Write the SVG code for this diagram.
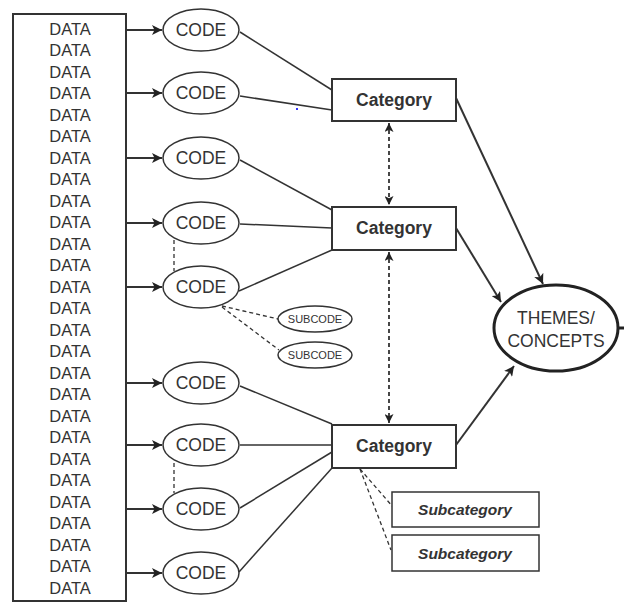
<svg xmlns="http://www.w3.org/2000/svg" width="624" height="604" viewBox="0 0 624 604">
<defs>
<marker id="ah" viewBox="0 0 10 10" refX="10" refY="5" markerWidth="10" markerHeight="10" markerUnits="userSpaceOnUse" orient="auto">
<path d="M0,0 L10,5 L0,10 L2.5,5 Z" fill="#222"/>
</marker>
<marker id="ahs" viewBox="0 0 10 10" refX="10" refY="5" markerWidth="9" markerHeight="9" markerUnits="userSpaceOnUse" orient="auto-start-reverse">
<path d="M0,0 L10,5 L0,10 L2.5,5 Z" fill="#222"/>
</marker>
</defs>
<style>
.box{fill:#fff;stroke:#333;stroke-width:2}
.code{fill:#fff;stroke:#333;stroke-width:1.5}
.t{font-family:"Liberation Sans",Arial,sans-serif;fill:#333;text-anchor:middle;dominant-baseline:central}
.data{font-size:16.5px}
.cl{font-size:17.5px}
.cat{font-size:17.5px;font-weight:bold}
.sub{font-size:11px}
.subcat{font-size:15.5px;font-weight:bold;font-style:italic}
.ln{stroke:#333;stroke-width:1.5;fill:none}
.arr{stroke:#333;stroke-width:2;fill:none;marker-end:url(#ah)}
.dash{stroke:#333;stroke-width:1.3;fill:none;stroke-dasharray:4,3}
.dar{stroke:#333;stroke-width:1.8;fill:none;stroke-dasharray:4,3;marker-start:url(#ahs);marker-end:url(#ahs)}
</style>
<g id="connectors">
<path class="arr" d="M126,30 H162"/>
<path class="arr" d="M126,93 H162"/>
<path class="arr" d="M126,158 H162"/>
<path class="arr" d="M126,223 H162"/>
<path class="arr" d="M126,287 H162"/>
<path class="arr" d="M126,383 H162"/>
<path class="arr" d="M126,445 H162"/>
<path class="arr" d="M126,509 H162"/>
<path class="arr" d="M126,573 H162"/>
<path class="ln" d="M240,32 L332,90"/>
<path class="ln" d="M240,96 L332,110"/>
<path class="ln" d="M240,160 L332,210"/>
<path class="ln" d="M240,224 L332,228"/>
<path class="ln" d="M239,291 L332,250"/>
<path class="ln" d="M240,386 L332,424"/>
<path class="ln" d="M240,445 L332,445"/>
<path class="ln" d="M240,508 L332,452"/>
<path class="ln" d="M239,572 L332,468"/>
<path class="dash" d="M174,240 V271"/>
<path class="dash" d="M174,463 V493"/>
<path class="dash" d="M222,306 L278,319"/>
<path class="dash" d="M222,307 L279,350"/>
<path class="dash" d="M360,469 L393,507"/>
<path class="dash" d="M360,469 L391,550"/>
<path class="dar" d="M389,123 V205"/>
<path class="dar" d="M389,252 V423"/>
<path class="arr" d="M456,98 L543,284"/>
<path class="arr" d="M456,228 L501,302"/>
<path class="arr" d="M456,445 L514,366"/>
<path stroke="#222" stroke-width="3" d="M618,328 H624"/>
</g>
<g id="data">
<rect class="box" x="13" y="14" width="113" height="587"/>
<g class="t data">
<text x="70" y="29">DATA</text><text x="70" y="50">DATA</text><text x="70" y="72">DATA</text><text x="70" y="93">DATA</text><text x="70" y="115">DATA</text><text x="70" y="136">DATA</text><text x="70" y="158">DATA</text><text x="70" y="179">DATA</text><text x="70" y="201">DATA</text><text x="70" y="222">DATA</text><text x="70" y="244">DATA</text><text x="70" y="265">DATA</text><text x="70" y="287">DATA</text><text x="70" y="308">DATA</text><text x="70" y="330">DATA</text><text x="70" y="351">DATA</text><text x="70" y="373">DATA</text><text x="70" y="394">DATA</text><text x="70" y="416">DATA</text><text x="70" y="437">DATA</text><text x="70" y="459">DATA</text><text x="70" y="480">DATA</text><text x="70" y="502">DATA</text><text x="70" y="523">DATA</text><text x="70" y="545">DATA</text><text x="70" y="566">DATA</text><text x="70" y="588">DATA</text>
</g>
</g>
<g id="code1"><ellipse class="code" cx="201" cy="30" rx="38" ry="21"/><text class="t cl" x="201" y="30">CODE</text></g>
<g id="code2"><ellipse class="code" cx="201" cy="93" rx="38" ry="21"/><text class="t cl" x="201" y="93">CODE</text></g>
<g id="code3"><ellipse class="code" cx="201" cy="158" rx="38" ry="21"/><text class="t cl" x="201" y="158">CODE</text></g>
<g id="code4"><ellipse class="code" cx="201" cy="223" rx="38" ry="21"/><text class="t cl" x="201" y="223">CODE</text></g>
<g id="code5"><ellipse class="code" cx="201" cy="287" rx="38" ry="21"/><text class="t cl" x="201" y="287">CODE</text></g>
<g id="code6"><ellipse class="code" cx="201" cy="383" rx="38" ry="21"/><text class="t cl" x="201" y="383">CODE</text></g>
<g id="code7"><ellipse class="code" cx="201" cy="445" rx="38" ry="21"/><text class="t cl" x="201" y="445">CODE</text></g>
<g id="code8"><ellipse class="code" cx="201" cy="509" rx="38" ry="21"/><text class="t cl" x="201" y="509">CODE</text></g>
<g id="code9"><ellipse class="code" cx="201" cy="573" rx="38" ry="21"/><text class="t cl" x="201" y="573">CODE</text></g>
<g id="subcode1"><ellipse class="code" cx="315" cy="319" rx="37" ry="13"/><text class="t sub" x="315" y="319">SUBCODE</text></g>
<g id="subcode2"><ellipse class="code" cx="315" cy="355" rx="37" ry="13"/><text class="t sub" x="315" y="355">SUBCODE</text></g>
<g id="cat1"><rect class="box" x="332" y="79" width="124" height="42"/><text class="t cat" x="394" y="100">Category</text></g>
<g id="cat2"><rect class="box" x="332" y="207" width="124" height="43"/><text class="t cat" x="394" y="228">Category</text></g>
<g id="cat3"><rect class="box" x="332" y="425" width="124" height="43"/><text class="t cat" x="394" y="446">Category</text></g>
<g id="subcat1"><rect class="code" x="392" y="492" width="147" height="35"/><text class="t subcat" x="465" y="509">Subcategory</text></g>
<g id="subcat2"><rect class="code" x="392" y="535" width="147" height="36"/><text class="t subcat" x="465" y="553">Subcategory</text></g>
<g id="themes"><ellipse fill="#fff" stroke="#222" stroke-width="3" cx="556" cy="328" rx="62" ry="43"/><text class="t cl" x="556" y="318">THEMES/</text><text class="t cl" x="556" y="341">CONCEPTS</text></g>
<rect x="296" y="108" width="2" height="2" fill="#33f"/>
</svg>
